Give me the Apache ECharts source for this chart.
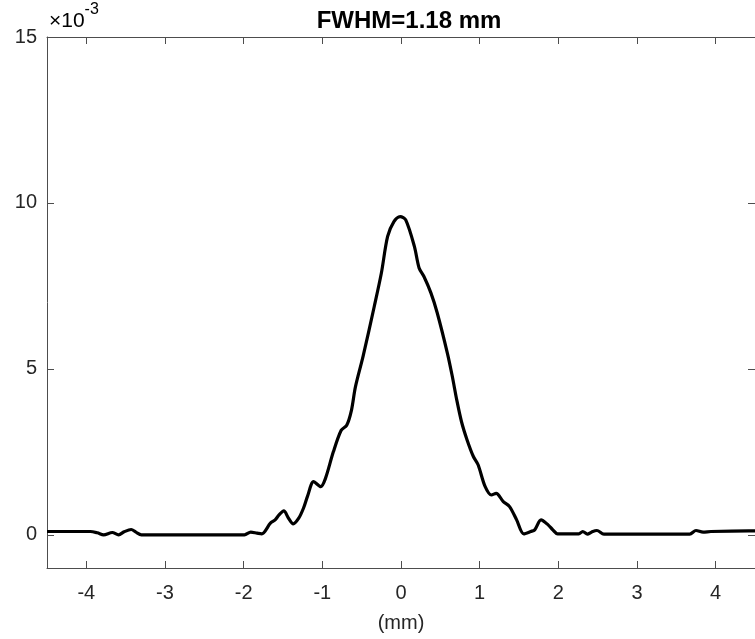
<!DOCTYPE html>
<html>
<head>
<meta charset="utf-8">
<script src="https://cdn.jsdelivr.net/npm/echarts@6/dist/echarts.min.js"></script>
<style>html,body{margin:0;padding:0;background:#fff}#c{width:755px;height:639px}</style>
</head>
<body>
<div id="c"></div>
<script>
// x positions in mm
const xValues = [-4.5,-4.2,-3.95,-3.86,-3.78,-3.67,-3.59,-3.52,-3.43,-3.37,-3.30,-3.06,-2.5,-1.99,-1.91,-1.83,-1.77,-1.66,-1.60,-1.55,-1.49,-1.43,-1.37,-1.30,-1.24,-1.19,-1.11,-1.02,-0.96,-0.86,-0.76,-0.69,-0.63,-0.58,-0.48,-0.34,-0.25,-0.17,-0.09,-0.01,0.06,0.17,0.23,0.29,0.38,0.46,0.59,0.65,0.71,0.77,0.84,0.92,0.98,1.07,1.15,1.21,1.30,1.38,1.47,1.56,1.65,1.70,1.78,1.87,1.93,1.99,2.26,2.31,2.37,2.42,2.49,2.58,3.2,3.67,3.75,3.84,3.94,4.42,4.5];
// values in units of 1e-3
const yValues = [0.10,0.10,0.10,0.06,0.00,0.07,0.00,0.09,0.16,0.08,0.00,0.00,0.00,0.00,0.08,0.05,0.03,0.35,0.45,0.60,0.72,0.50,0.33,0.50,0.80,1.15,1.60,1.45,1.70,2.50,3.15,3.30,3.75,4.45,5.40,6.88,7.88,8.99,9.44,9.59,9.49,8.69,8.04,7.79,7.29,6.69,5.47,4.80,4.05,3.40,2.86,2.36,2.11,1.45,1.20,1.25,1.00,0.85,0.45,0.03,0.10,0.15,0.45,0.30,0.15,0.03,0.03,0.10,0.02,0.08,0.13,0.02,0.02,0.02,0.13,0.08,0.10,0.12,0.12];
const xTicks = [-4,-3,-2,-1,0,1,2,3,4];
const yTicks = [0,5,10,15];
const titleText = 'FWHM=1.18 mm';
const xName = '(mm)';

const axisColor = '#4d4d4d';
const textColor = '#262626';
const fontFamily = 'Arial, "Liberation Sans", Helvetica, sans-serif';

const chart = echarts.init(document.getElementById('c'), null, {renderer: 'canvas'});
const data = xValues.map((x, i) => [x, yValues[i]]);

const baseX = {
  type: 'value', min: -4.5, max: 4.5,
  axisLine: {show: true, onZero: false, lineStyle: {color: axisColor, width: 1}},
  axisTick: {show: true, inside: true, length: 7, customValues: xTicks, lineStyle: {color: axisColor}},
  splitLine: {show: false}
};
const baseY = {
  type: 'value', min: -1, max: 15,
  axisLine: {show: true, onZero: false, lineStyle: {color: axisColor, width: 1}},
  axisTick: {show: true, inside: true, length: 7, customValues: yTicks, lineStyle: {color: axisColor}},
  splitLine: {show: false}
};

chart.setOption({
  backgroundColor: '#fff',
  animation: false,
  title: {
    text: titleText, left: 404, top: 4, textAlign: 'center',
    textStyle: {fontFamily, fontSize: 24, fontWeight: 'bold', color: '#000'}
  },
  grid: {left: 47, right: -6, top: 37, bottom: 71},
  xAxis: [
    Object.assign({}, baseX, {
      position: 'bottom',
      name: xName, nameLocation: 'middle', nameGap: 45,
      nameTextStyle: {fontFamily, fontSize: 20, color: textColor},
      axisLabel: {show: true, customValues: xTicks, margin: 15, fontFamily, fontSize: 20, color: textColor}
    }),
    Object.assign({}, baseX, {position: 'top', axisLabel: {show: false}})
  ],
  yAxis: [
    Object.assign({}, baseY, {
      position: 'left',
      axisLabel: {show: true, customValues: yTicks, margin: 10, fontFamily, fontSize: 20, color: textColor}
    }),
    Object.assign({}, baseY, {position: 'right', axisLabel: {show: false}})
  ],
  graphic: [{
    type: 'text', left: 49, top: 2,
    style: {
      text: '{a|×10}{b|-3}',
      rich: {
        a: {fontFamily, fontSize: 21, color: textColor, verticalAlign: 'bottom', lineHeight: 30},
        b: {fontFamily, fontSize: 16, color: textColor, verticalAlign: 'top', lineHeight: 30, padding: [0,0,10,0]}
      }
    }
  }],
  series: [{
    type: 'line', data, xAxisIndex: 0, yAxisIndex: 0,
    showSymbol: false, smooth: 0.3,
    lineStyle: {color: '#000', width: 3.2},
    clip: true
  }]
});
</script>
</body>
</html>
